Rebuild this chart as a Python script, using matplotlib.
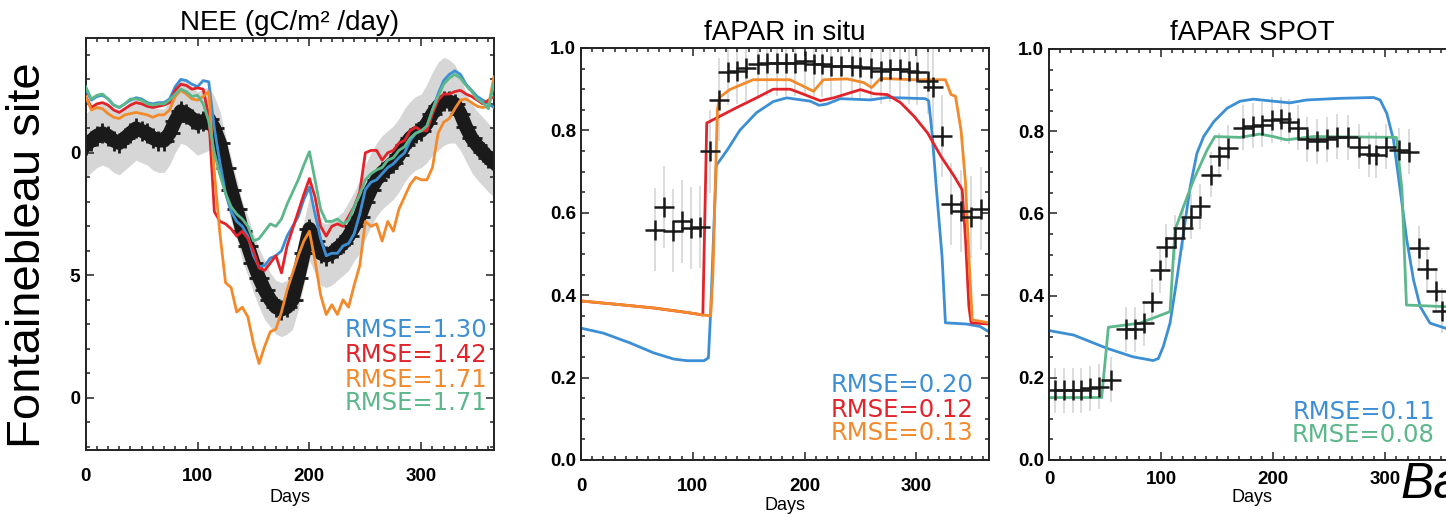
import matplotlib
matplotlib.use("Agg")
import matplotlib.pyplot as plt
from matplotlib.patches import Rectangle
from matplotlib.ticker import MultipleLocator, FormatStrFormatter
import numpy as np

plt.rcParams['axes.unicode_minus'] = False

# ---------------- NEE panel (5-day readings) ----------------
nee_days = list(range(0, 366, 5))
nee_obs = [0.3, 0.5, 0.7, 0.8, 0.7, 0.5, 0.4, 0.6, 0.8, 1.0, 0.9, 0.8, 0.6, 0.5, 0.5,
           0.8, 1.3, 1.7, 1.6, 1.4, 1.2, 1.3, 1.4, 1.0, 0.4, -0.6, -1.5, -2.3, -3.2, -3.8,
           -4.5, -5.1, -5.6, -6.0, -6.3, -6.4, -6.3, -6.0, -5.1, -4.1, -3.1, -3.6, -4.1, -4.2,
           -4.1, -3.9, -3.7, -3.4, -3.0, -2.6, -2.0, -1.5, -1.1, -0.8, -0.6, -0.4, -0.1, 0.3,
           0.6, 0.8, 0.9, 1.2, 1.6, 1.9, 2.1, 2.1, 2.0, 1.6, 1.05, 0.6, 0.3, 0.05, -0.2, -0.4]
nee_err = [1.3] * 24 + [1.3, 1.3, 1.3, 1.2, 1.2, 1.2, 1.2, 1.2, 1.2, 1.1, 1.1, 1.1, 1.1,
           1.2, 1.3, 1.3, 1.3, 1.3, 1.3, 1.3, 1.3, 1.3, 1.3, 1.4, 1.4, 1.5, 1.5, 1.5, 1.5,
           1.5, 1.5, 1.5, 1.5, 1.5, 1.5, 1.5, 1.5, 1.6, 1.7, 1.8, 1.8, 1.7, 1.6, 1.5, 1.4,
           1.4, 1.4, 1.4, 1.4, 1.4]
nee_blue = [2.6, 2.15, 2.3, 2.35, 2.2, 1.95, 1.85, 2.0, 2.15, 2.25, 2.2, 2.05, 2.0, 2.05,
            2.05, 2.2, 2.7, 3.0, 2.95, 2.8, 2.7, 2.95, 2.9, 1.0, -0.4, -1.65, -2.4, -2.8,
            -3.0, -3.4, -4.2, -4.65, -4.6, -4.3, -4.2, -4.0, -3.4, -3.0, -2.6, -1.9, -1.4,
            -2.5, -3.5, -4.2, -4.1, -4.1, -3.8, -3.7, -3.3, -2.5, -1.5, -1.2, -1.1, -0.85,
            -0.6, -0.45, -0.2, 0.0, 0.5, 0.8, 0.9, 1.05, 1.75, 2.4, 2.95, 3.2, 3.35, 3.2,
            2.8, 2.55, 2.3, 2.15, 2.0, 1.85]
nee_red = [2.3, 1.85, 2.0, 2.05, 1.95, 1.75, 1.65, 1.8, 1.95, 2.05, 2.0, 1.9, 1.85, 1.9,
           1.95, 2.05, 2.55, 2.8, 2.75, 2.6, 2.65, 2.6, 1.5, -2.4, -2.8, -2.9, -3.1, -3.4,
           -3.2, -3.5, -4.0, -4.7, -4.8, -4.5, -4.2, -4.9, -3.8, -3.1, -2.4, -1.7, -1.05,
           -1.8, -3.0, -3.4, -3.0, -2.9, -3.0, -2.6, -2.2, -1.6, 0.0, 0.1, 0.1, -0.3, 0.0,
           0.1, 0.4, 0.5, 0.9, 1.05, 0.9, 0.9, 1.6, 2.15, 2.4, 2.4, 2.5, 2.55, 2.4, 2.3,
           2.15, 2.0, 2.15, 2.3]
nee_orange = [2.3, 1.75, 1.85, 1.8, 1.6, 1.45, 1.4, 1.55, 1.6, 1.65, 1.6, 1.55, 1.45, 1.55,
              1.55, 1.75, 2.3, 2.55, 2.4, 2.2, 2.15, 2.3, 2.5, -0.8, -3.3, -5.3, -5.5, -6.5,
              -6.3, -6.7, -7.8, -8.6, -7.9, -7.3, -7.2, -6.5, -5.6, -4.9, -4.2, -3.6, -3.2,
              -4.4, -5.8, -6.6, -6.2, -6.6, -6.0, -6.3, -5.4, -4.6, -2.8, -3.0, -2.9, -3.6,
              -2.8, -3.2, -2.3, -1.8, -1.3, -1.0, -1.1, -1.1, -0.6, 0.8, 1.25, 1.4, 1.8, 2.15,
              2.2, 2.05, 1.9, 1.85, 1.9, 3.1]
nee_green = [2.7, 2.2, 2.35, 2.4, 2.2, 1.95, 1.85, 2.0, 2.2, 2.2, 2.15, 2.0, 1.95, 2.0,
             2.0, 2.15, 2.4, 2.6, 2.5, 2.3, 2.35, 2.0, 1.3, 0.0, -0.9, -1.65, -2.2, -2.5,
             -2.7, -3.0, -3.6, -3.5, -3.2, -2.9, -3.0, -2.7, -2.1, -1.6, -1.1, -0.5, 0.05,
             -1.1, -2.3, -2.8, -2.8, -2.7, -2.9, -2.75, -2.2, -1.7, -1.1, -0.85, -0.7, -0.6,
             -0.3, -0.2, 0.1, 0.25, 0.6, 0.8, 0.9, 1.1, 1.75, 2.3, 2.8, 3.05, 3.2, 3.05,
             2.75, 2.5, 2.2, 2.05, 1.8, 2.85]
nee_rmse = ["RMSE=1.30", "RMSE=1.42", "RMSE=1.71", "RMSE=1.71"]

# ---------------- fAPAR in situ ----------------
situ_obs_days = [66, 74, 82, 90, 98.5, 106.5, 115, 123.5, 131.6, 140, 148, 158, 166, 175,
                 183, 191, 200, 208, 216, 224, 233, 242, 250, 259, 268, 276, 285, 293,
                 301, 310, 315, 323, 331, 340, 349, 358]
situ_obs = [0.559, 0.614, 0.557, 0.579, 0.563, 0.565, 0.749, 0.875, 0.941, 0.945, 0.952,
            0.96, 0.964, 0.964, 0.964, 0.964, 0.968, 0.96, 0.96, 0.956, 0.956, 0.956, 0.953,
            0.952, 0.945, 0.948, 0.948, 0.945, 0.941, 0.919, 0.905, 0.786, 0.622, 0.605,
            0.59, 0.61]
situ_err = [0.1] * 8 + [0.08] * 22 + [0.1] * 6
situ_blue_days = [0, 20, 44, 65, 83, 95, 110, 114, 116, 121, 131, 142, 157, 172, 184, 205,
                  213, 220, 232, 259, 274, 308, 311, 314, 318, 323, 326, 345, 357, 365]
situ_blue = [0.32, 0.308, 0.284, 0.26, 0.245, 0.241, 0.241, 0.248, 0.36, 0.715, 0.753, 0.80,
             0.843, 0.87, 0.879, 0.871, 0.861, 0.864, 0.877, 0.874, 0.88, 0.877, 0.872,
             0.795, 0.656, 0.494, 0.333, 0.33, 0.324, 0.311]
situ_red_days = [0, 35, 65, 95, 109, 112.5, 124, 139, 157, 172, 187, 196, 214, 226, 250,
                 262, 274, 286, 298, 310, 322, 334, 341, 344, 347, 349, 365]
situ_red = [0.386, 0.377, 0.369, 0.358, 0.352, 0.818, 0.834, 0.855, 0.879, 0.90, 0.90,
            0.891, 0.872, 0.879, 0.899, 0.889, 0.887, 0.867, 0.834, 0.794, 0.737, 0.688,
            0.656, 0.535, 0.373, 0.333, 0.33]
situ_orange_days = [0, 35, 65, 95, 109, 116, 118, 122, 124, 133, 154, 187, 196, 208, 217,
                    238, 253, 260, 268, 298, 326, 331, 335, 340, 344, 347, 350, 365]
situ_orange = [0.386, 0.377, 0.369, 0.358, 0.352, 0.35, 0.45, 0.85, 0.88, 0.899, 0.923,
               0.923, 0.911, 0.895, 0.923, 0.925, 0.916, 0.904, 0.926, 0.923, 0.923, 0.887,
               0.883, 0.80, 0.672, 0.494, 0.34, 0.333]
situ_rmse = ["RMSE=0.20", "RMSE=0.12", "RMSE=0.13"]

# ---------------- fAPAR SPOT ----------------
spot_obs_days = [5, 13, 21, 29, 37, 45, 55, 69, 77, 85, 92, 99, 104, 112, 120, 127, 135,
                 145, 152, 160, 173, 182, 190, 199, 207, 214, 222, 230, 239, 248, 257, 267,
                 277, 286, 292, 301, 312, 321, 330, 337, 345, 351]
spot_obs = [0.170, 0.170, 0.170, 0.170, 0.174, 0.178, 0.195, 0.318, 0.318, 0.333, 0.385,
            0.462, 0.519, 0.541, 0.565, 0.592, 0.617, 0.694, 0.740, 0.760, 0.809, 0.813,
            0.816, 0.827, 0.829, 0.823, 0.809, 0.78, 0.775, 0.78, 0.787, 0.785, 0.762,
            0.744, 0.742, 0.762, 0.754, 0.750, 0.515, 0.465, 0.412, 0.363]
spot_err = [0.055] * len(spot_obs)
spot_blue_days = [0, 22, 51.5, 75, 93, 97.6, 102, 108, 114, 120, 126, 132, 138, 147, 159,
                  170.5, 182.4, 200, 215, 230, 260, 289.6, 295.5, 301.5, 307.4, 313.4,
                  319.3, 325.3, 331.3, 340, 354.5, 365]
spot_blue = [0.315, 0.304, 0.272, 0.251, 0.242, 0.247, 0.276, 0.333, 0.438, 0.552, 0.665,
             0.746, 0.787, 0.823, 0.856, 0.873, 0.878, 0.873, 0.869, 0.876, 0.88, 0.882,
             0.876, 0.843, 0.779, 0.657, 0.535, 0.438, 0.373, 0.333, 0.32, 0.315]
spot_green_days = [0, 47, 53, 81, 108, 112.5, 120, 129, 141, 148, 170.5, 188, 200, 212,
                   224, 236, 310, 315, 319, 354.5, 365]
spot_green = [0.152, 0.152, 0.323, 0.333, 0.361, 0.56, 0.616, 0.681, 0.754, 0.787, 0.785,
              0.793, 0.787, 0.779, 0.783, 0.787, 0.785, 0.657, 0.377, 0.373, 0.372]
spot_rmse = ["RMSE=0.11", "RMSE=0.08"]

BLUE = '#3d8fd5'
RED = '#e2232a'
ORANGE = '#f28a2b'
GREEN = '#5cb78b'
GREY = '#d6d6d6'

W, H = 1446, 514
fig = plt.figure(figsize=(W / 100, H / 100), dpi=100)


def px_axes(left, top, right, bottom):
    return fig.add_axes([left / W, 1 - bottom / H, (right - left) / W, (bottom - top) / H])


def style(ax, xpad):
    ax.set_xlim(0, 365)
    ax.xaxis.set_major_locator(MultipleLocator(100))
    ax.xaxis.set_minor_locator(MultipleLocator(10))
    ax.tick_params(which='both', direction='in', top=True, right=True, width=1.1,
                   colors='#222222')
    ax.tick_params(which='major', length=6)
    ax.tick_params(which='minor', length=3.2)
    ax.tick_params(axis='x', pad=xpad)
    ax.tick_params(axis='y', pad=3.5)
    for s in ax.spines.values():
        s.set_linewidth(1.4)
        s.set_color('#222222')
    for lab in ax.get_xticklabels() + ax.get_yticklabels():
        lab.set_fontfamily('Liberation Sans')
        lab.set_fontweight('bold')
        lab.set_fontsize(13.5)
        lab.set_color('black')


def px_text(x, y, s, **kw):
    fig.text(x / W, 1 - y / H, s, **kw)


title_kw = dict(fontfamily='Liberation Sans', fontsize=20, ha='center', va='center')
days_kw = dict(fontfamily='Liberation Sans', fontsize=13, ha='center', va='center')
rmse_kw = dict(fontfamily='DejaVu Sans', fontsize=17.5, ha='right', va='center')

# ---- panel 1 ----
ax1 = px_axes(85.7, 37.7, 494, 450)
lo = [o - e for o, e in zip(nee_obs, nee_err)]
hi = [o + e for o, e in zip(nee_obs, nee_err)]
ax1.fill_between(nee_days, lo, hi, color=GREY, lw=0, zorder=1)
ax1.plot(nee_days, nee_obs, color='#1a1a1a', lw=10, zorder=2)
ax1.plot(nee_days, nee_obs, '+', color='#1a1a1a', ms=15, mew=2, zorder=2)
for vals, c in [(nee_blue, BLUE), (nee_red, RED), (nee_orange, ORANGE), (nee_green, GREEN)]:
    ax1.plot(nee_days, vals, color=c, lw=2.0, zorder=3)
ax1.set_ylim(-12.13, 4.7)
ax1.yaxis.set_major_locator(MultipleLocator(5))
ax1.yaxis.set_minor_locator(MultipleLocator(1))
style(ax1, 13)
for y, s, c in zip([330, 355, 380, 403], nee_rmse, [BLUE, RED, ORANGE, GREEN]):
    px_text(487, y, s, color=c, **rmse_kw)
px_text(290, 23, 'NEE (gC/m² /day)', **title_kw)
px_text(290, 497, 'Days', **days_kw)

# ---- panel 2 ----
ax2 = px_axes(581, 48, 989, 460)
ax2.errorbar(situ_obs_days, situ_obs, yerr=situ_err, fmt='none', ecolor=GREY, elinewidth=1.2,
             zorder=1)
ax2.plot(situ_blue_days, situ_blue, color=BLUE, lw=2.0, zorder=2)
ax2.plot(situ_red_days, situ_red, color=RED, lw=2.0, zorder=2)
ax2.plot(situ_orange_days, situ_orange, color=ORANGE, lw=2.0, zorder=2)
ax2.plot(situ_obs_days, situ_obs, '+', color='#1a1a1a', ms=15, mew=1.8, zorder=3)
ax2.set_ylim(0, 1)
ax2.yaxis.set_major_locator(MultipleLocator(0.2))
ax2.yaxis.set_minor_locator(MultipleLocator(0.05))
ax2.yaxis.set_major_formatter(FormatStrFormatter('%.1f'))
style(ax2, 13)
for y, s, c in zip([385, 410, 433], situ_rmse, [BLUE, RED, ORANGE]):
    px_text(973, y, s, color=c, **rmse_kw)
px_text(785, 33, 'fAPAR in situ', **title_kw)
px_text(785, 505, 'Days', **days_kw)

# ---- panel 3 ----
ax3 = px_axes(1049, 49, 1458, 460)
ax3.errorbar(spot_obs_days, spot_obs, yerr=spot_err, fmt='none', ecolor=GREY, elinewidth=1.2,
             zorder=1)
ax3.plot(spot_blue_days, spot_blue, color=BLUE, lw=2.0, zorder=2)
ax3.plot(spot_green_days, spot_green, color=GREEN, lw=2.0, zorder=2)
ax3.plot(spot_obs_days, spot_obs, '+', color='#1a1a1a', ms=15, mew=1.8, zorder=3)
ax3.set_ylim(0, 1)
ax3.yaxis.set_major_locator(MultipleLocator(0.2))
ax3.yaxis.set_minor_locator(MultipleLocator(0.05))
ax3.yaxis.set_major_formatter(FormatStrFormatter('%.1f'))
style(ax3, 8)
for y, s, c in zip([412, 435], spot_rmse, [BLUE, GREEN]):
    px_text(1435, y, s, color=c, **rmse_kw)
px_text(1252, 33, 'fAPAR SPOT', **title_kw)
px_text(1252, 498, 'Days', **days_kw)

# slide overlay: site label box covering the left edge
fig.patches.append(Rectangle((0, 0), 70 / W, 1, transform=fig.transFigure,
                             facecolor='white', edgecolor='none', zorder=5))
fig.text(28 / W, 1 - 255 / H, 'Fontainebleau site', rotation=90, ha='center', va='center',
         fontfamily='Liberation Sans', fontsize=34, zorder=6)
fig.text(1400 / W, 1 - 498 / H, 'Ba', ha='left', va='baseline',
         fontfamily='Liberation Sans', fontstyle='italic', fontsize=36, zorder=6)

fig.savefig('out.png', dpi=100)
